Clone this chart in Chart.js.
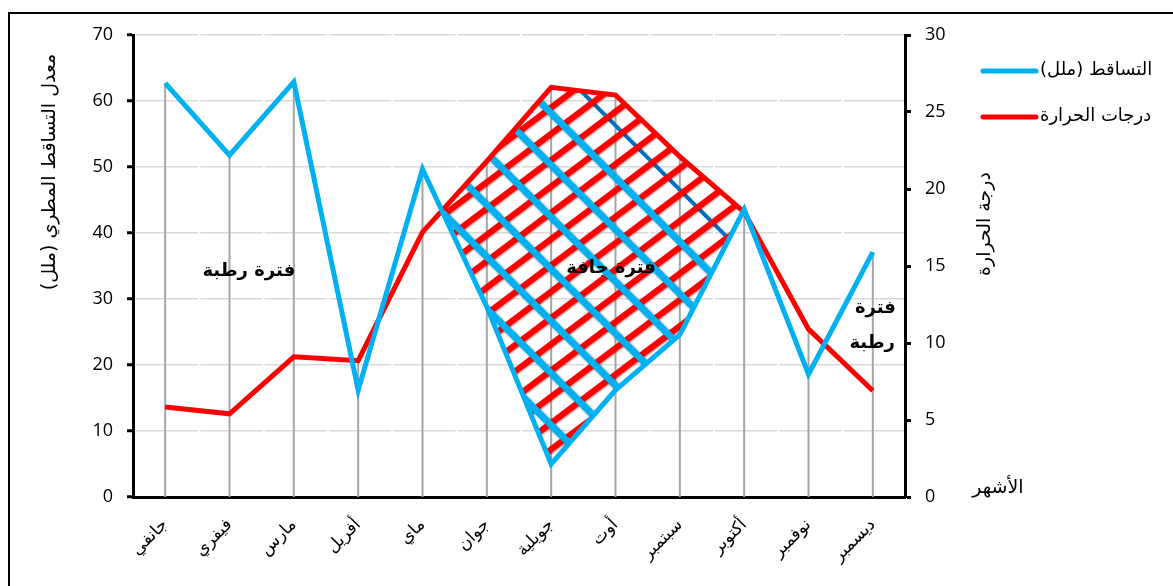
<!DOCTYPE html>
<html lang="ar">
<head>
<meta charset="utf-8">
<title>المنحنى المطري الحراري</title>
<script src="https://cdn.jsdelivr.net/npm/chart.js@4.4.1/dist/chart.umd.min.js"></script>
<style>
  html, body { margin: 0; padding: 0; background: #fff; overflow: hidden; }
  #wrap { position: relative; width: 1173px; height: 586px; overflow: hidden; }
  #frame { position: absolute; left: 8px; top: 12px; width: 1200px; height: 640px; border: 2px solid #000; }
  #chart { position: absolute; left: 0; top: 0; }
</style>
</head>
<body>
<div id="wrap">
  <div id="frame"></div>
  <canvas id="chart" width="1173" height="586"></canvas>
</div>
<script>
// الأشهر
const months = ['جانفي', 'فيفري', 'مارس', 'أفريل', 'ماي', 'جوان', 'جويلية', 'أوت', 'سبتمبر', 'أكتوبر', 'نوفمبر', 'ديسمبر'];
// التساقط (ملل)
const rain = [62.7, 51.8, 62.9, 16.2, 49.7, 28.8, 5.0, 16.2, 24.6, 43.6, 18.6, 37.1];
// درجات الحرارة
const temp = [5.85, 5.4, 9.1, 8.85, 17.2, 21.8, 26.6, 26.1, 22.1, 18.5, 10.9, 6.9];
const rainTicks = [0, 10, 20, 30, 40, 50, 60, 70];
const tempTicks = [0, 5, 10, 15, 20, 25, 30];
// الفترة الجافة: من ماي إلى أكتوبر
const dryFrom = 4, dryTo = 9;

const BLUE = '#00b0f0';
const RED = '#ff0000';
const NUM_FONT = "'Open Sans', 'DejaVu Sans', sans-serif";
const AR_FONT = "'DejaVu Sans', sans-serif";

const canvas = document.getElementById('chart');
const ctx = canvas.getContext('2d');

// تهشير الفترة الجافة (خطوط حمراء وزرقاء متقاطعة)
function buildHatch(w, h) {
  const c = document.createElement('canvas');
  c.width = w; c.height = h;
  const g = c.getContext('2d');
  g.lineCap = 'butt';

  // خط أزرق داكن واحد تحت الخطوط الحمراء
  g.strokeStyle = '#0070c0';
  g.lineWidth = 4;
  g.beginPath();
  g.moveTo(490 - 800, -800);
  g.lineTo(490 + 1600, 1600);
  g.stroke();

  // الخطوط الحمراء
  const a = 37 * Math.PI / 180;
  const sa = Math.sin(a), ca = Math.cos(a);
  g.save();
  g.shadowColor = 'rgba(110,0,0,0.55)';
  g.shadowBlur = 2;
  g.shadowOffsetX = -1;
  g.shadowOffsetY = 2;
  g.strokeStyle = RED;
  g.lineWidth = 6;
  for (let d = 648.5 - 21 * 40; d < 1400; d += 21) {
    const px = d * sa, py = d * ca;
    g.beginPath();
    g.moveTo(px - ca * 2000, py + sa * 2000);
    g.lineTo(px + ca * 2000, py - sa * 2000);
    g.stroke();
  }
  g.restore();

  // الخطوط الزرقاء
  g.save();
  g.shadowColor = 'rgba(0,0,0,0.35)';
  g.shadowBlur = 3;
  g.shadowOffsetX = 2;
  g.shadowOffsetY = 2;
  g.strokeStyle = BLUE;
  g.lineWidth = 7;
  for (let k = 1; k < 40; k++) {
    const cst = 490 - 52 * k;
    g.beginPath();
    g.moveTo(cst - 800, -800);
    g.lineTo(cst + 1600, 1600);
    g.stroke();
  }
  g.restore();
  return ctx.createPattern(c, 'no-repeat');
}

const hatch = buildHatch(canvas.width, canvas.height);

const onlyDry = arr => arr.map((v, i) => (i >= dryFrom && i <= dryTo ? v : null));

// خطوط الإسقاط العمودية من أعلى نقطة حتى المحور
const dropLines = {
  id: 'dropLines',
  beforeDatasetsDraw(chart) {
    const c = chart.ctx;
    const area = chart.chartArea;
    const m0 = chart.getDatasetMeta(0).data;
    const m1 = chart.getDatasetMeta(1).data;
    c.save();
    c.strokeStyle = '#a6a6a6';
    c.lineWidth = 2;
    m0.forEach((p, i) => {
      const top = Math.min(p.y, m1[i].y);
      c.beginPath();
      c.moveTo(p.x, top);
      c.lineTo(p.x, area.bottom);
      c.stroke();
    });
    c.restore();
  }
};

// العناوين والمفتاح والتسميات
const labels = {
  id: 'labels',
  afterDraw(chart) {
    const c = chart.ctx;
    const area = chart.chartArea;
    const xs = chart.scales.x;
    const ys = chart.scales.y;
    c.save();
    c.direction = 'rtl';
    c.fillStyle = '#000';
    c.textAlign = 'center';
    c.textBaseline = 'middle';

    // تسميات الفترات
    c.font = 'bold 18px ' + AR_FONT;
    c.fillText('فترة رطبة', xs.getPixelForValue(1.3), ys.getPixelForValue(34.2));
    c.fillText('فترة جافة', xs.getPixelForValue(6.93), ys.getPixelForValue(34.7));
    c.fillText('فترة', xs.getPixelForValue(11.04), ys.getPixelForValue(28.6));
    c.fillText('رطبة', xs.getPixelForValue(10.99), ys.getPixelForValue(23.3));

    // عنوان المحور الأيسر
    c.font = '19px ' + AR_FONT;
    c.save();
    c.translate(area.left - 83, 172);
    c.rotate(-Math.PI / 2);
    c.fillText('معدل التساقط المطري (ملل)', 0, 0);
    c.restore();

    // عنوان المحور الأيمن
    c.save();
    c.translate(area.right + 80, 224);
    c.rotate(-Math.PI / 2);
    c.fillText('درجة الحرارة', 0, 0);
    c.restore();

    // عنوان محور الأشهر
    c.fillText('الأشهر', area.right + 93, area.bottom - 9);

    // المفتاح
    const items = [
      { text: chart.data.datasets[0].label, color: BLUE, y: 71 },
      { text: chart.data.datasets[1].label, color: RED, y: 117 }
    ];
    c.lineCap = 'round';
    c.lineWidth = 5;
    c.font = '18px ' + AR_FONT;
    c.textAlign = 'left';
    items.forEach(it => {
      c.strokeStyle = it.color;
      c.beginPath();
      c.moveTo(area.right + 78, it.y);
      c.lineTo(area.right + 131, it.y);
      c.stroke();
      c.fillText(it.text, area.right + 135, it.y - 1);
    });
    c.restore();
  }
};

new Chart(canvas, {
  type: 'line',
  data: {
    labels: months,
    datasets: [
      {
        label: 'التساقط (ملل)',
        data: rain,
        yAxisID: 'y',
        borderColor: BLUE,
        borderWidth: 5,
        borderJoinStyle: 'miter',
        pointRadius: 0,
        tension: 0,
        fill: false
      },
      {
        label: 'درجات الحرارة',
        data: temp,
        yAxisID: 'yT',
        borderColor: RED,
        borderWidth: 5,
        borderJoinStyle: 'miter',
        pointRadius: 0,
        tension: 0,
        fill: false
      },
      {
        // حد الفترة الجافة (درجات الحرارة) مع التهشير
        label: 'dryTemp',
        data: onlyDry(temp),
        yAxisID: 'yT',
        borderWidth: 0,
        borderColor: 'rgba(0,0,0,0)',
        pointRadius: 0,
        tension: 0,
        fill: { target: 3, above: hatch, below: 'rgba(0,0,0,0)' }
      },
      {
        label: 'dryRain',
        data: onlyDry(rain),
        yAxisID: 'y',
        borderWidth: 0,
        borderColor: 'rgba(0,0,0,0)',
        pointRadius: 0,
        tension: 0,
        fill: false
      }
    ]
  },
  options: {
    responsive: false,
    animation: false,
    events: [],
    layout: { padding: { top: 35, left: 0, right: 0, bottom: 0 } },
    plugins: {
      legend: { display: false },
      title: { display: false },
      tooltip: { enabled: false }
    },
    scales: {
      x: {
        offset: true,
        grid: { display: false },
        border: { display: true, color: '#000', width: 3 },
        ticks: {
          autoSkip: false,
          minRotation: 45,
          maxRotation: 45,
          padding: 10,
          color: '#000',
          font: { family: AR_FONT, size: 17 }
        },
        afterFit(s) { s.height = 89; }
      },
      y: {
        position: 'left',
        min: 0,
        max: 70,
        afterBuildTicks(s) { s.ticks = rainTicks.map(v => ({ value: v })); },
        ticks: { padding: 14, color: '#000', font: { family: NUM_FONT, size: 18 } },
        grid: {
          color: c => (c.tick && c.tick.value === 0 ? 'rgba(0,0,0,0)' : '#d9d9d9'),
          lineWidth: 1.5,
          tickColor: '#000',
          tickLength: 6,
          tickWidth: 3
        },
        border: { color: '#000', width: 3, dash: [62.33, 2], dashOffset: -1 },
        afterFit(s) { s.width = 133; }
      },
      yT: {
        position: 'right',
        min: 0,
        max: 30,
        afterBuildTicks(s) { s.ticks = tempTicks.map(v => ({ value: v })); },
        ticks: { padding: 14, color: '#000', font: { family: NUM_FONT, size: 18 } },
        grid: {
          drawOnChartArea: false,
          tickColor: '#000',
          tickLength: 6,
          tickWidth: 3
        },
        border: { color: '#000', width: 3 },
        afterFit(s) { s.width = 268; }
      }
    }
  },
  plugins: [dropLines, labels]
});
</script>
</body>
</html>
